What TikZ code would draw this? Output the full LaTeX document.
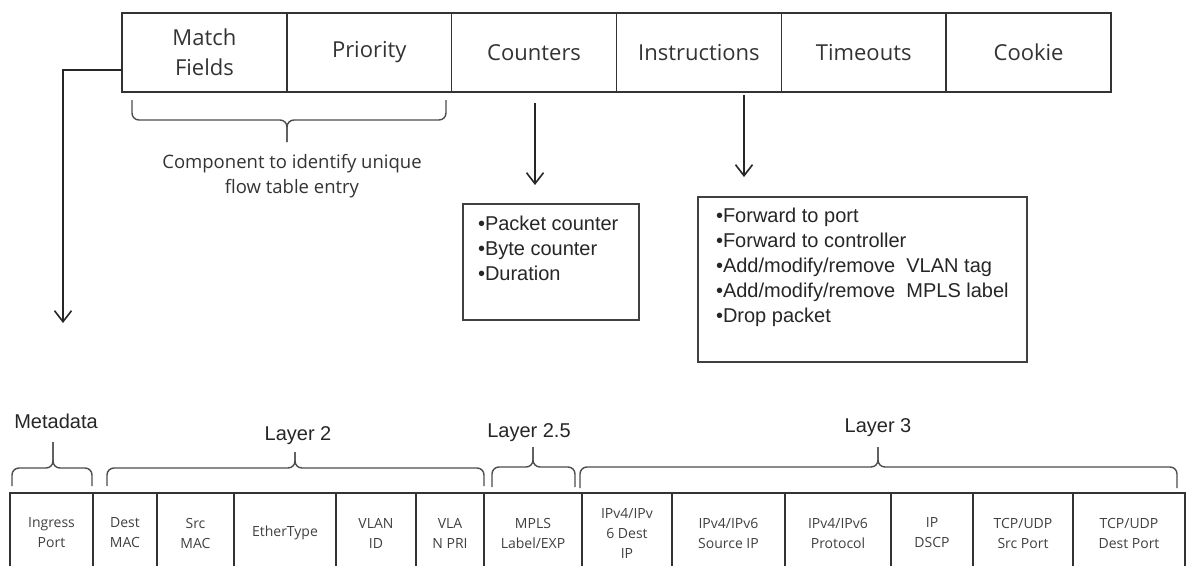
\documentclass[tikz,border=0pt]{standalone}
\usepackage{fontspec}
\setmainfont{Open Sans}
\newfontfamily\arialf{Liberation Sans}
\usetikzlibrary{arrows.meta,calc}
\begin{document}
\begin{tikzpicture}[x=1pt,y=-1pt,
  ln/.style={draw=black!80, line width=1.6pt},
  topcell/.style={ln, minimum width=164.83pt, minimum height=79pt, outer sep=0pt, inner sep=0pt, anchor=north west, align=center, font=\fontsize{22}{30}\selectfont, text=black!80},
  botcell/.style={minimum height=80pt, outer sep=0pt, inner sep=0pt, anchor=north west, align=center, font=\fontsize{14}{20}\selectfont, text=black!75},
  layerlbl/.style={font=\arialf\fontsize{20}{24}\selectfont, text=black!85},
  boxfr/.style={draw=black!75, line width=1.4pt, outer sep=0pt, inner sep=0pt, anchor=north west},
  listtxt/.style={anchor=north west, inner sep=0pt, outer sep=0pt, text=black!85, font=\arialf\fontsize{20}{25}\selectfont, align=left},
  note/.style={font=\fontsize{18.5}{25}\selectfont, text=black!80, align=center},
  brc/.style={draw=black!70, line width=1.4pt, rounded corners=7pt},
  arr/.style={draw=black!85, line width=1.6pt, -{Straight Barb[length=11pt,width=17pt]}}
]
\useasboundingbox (0,0) rectangle (1188,565);

% ---- top flow table entry ----
\node[topcell] (mf)   at (122,13)    {Match\\Fields};
\node[topcell] (prio) at (286.83,13) {Priority};
\node[topcell] (cnt)  at (451.67,13) {Counters};
\node[topcell] (ins)  at (616.5,13)  {Instructions};
\node[topcell] (tmo)  at (781.33,13) {Timeouts};
\node[topcell] (ck)   at (946.17,13) {Cookie};

% top brace
\draw[brc] (132,100) -- (132,120) -- (287,120) -- (287,142);
\draw[brc] (446,100) -- (446,120) -- (287,120) -- (287,142);
\node[note] (comp) at (292,176) {Component to identify unique\\flow table entry};

% counters / instructions boxes
\node[boxfr, minimum width=176pt, minimum height=116pt] (cbox) at (463,204) {};
\node[listtxt] (ctxt) at ($(cbox.north west)+(15,12)$) {•Packet counter\\•Byte counter\\•Duration};
\node[boxfr, minimum width=329pt, minimum height=165pt] (ibox) at (698,197) {};
\node[listtxt] (itxt) at ($(ibox.north west)+(18,11)$) {•Forward to port\\•Forward to controller\\•Add/modify/remove\ \ VLAN tag\\•Add/modify/remove\ \ MPLS label\\•Drop packet};

% arrows
\coordinate (cstart) at (535,103);
\coordinate (istart) at (744,95);
\draw[arr] (cstart) -- ($(cstart |- cbox.north)+(0,-19)$);
\draw[arr] (istart) -- ($(istart |- ibox.north)+(0,-20)$);
\coordinate (mfout) at (122,70);
\coordinate (mdtip) at (63,323);
\draw[arr] (mfout) -| (mdtip);

% ---- bottom match fields ----
\node[botcell, minimum width=83pt]  (ing)   at (10,493)  {Ingress\\Port};
\node[botcell, minimum width=64pt]  (dmac)  at (93,493)  {Dest\\MAC};
\node[botcell, minimum width=77pt]  (smac)  at (157,493) {Src\\MAC};
\node[botcell, minimum width=102pt] (etype) at (234,493) {EtherType};
\node[botcell, minimum width=80pt]  (vid)   at (336,493) {VLAN\\ID};
\node[botcell, minimum width=68pt]  (vpri)  at (416,493) {VLA\\N PRI};
\node[botcell, minimum width=98pt]  (mpls)  at (484,493) {MPLS\\Label/EXP};
\node[botcell, minimum width=90pt]  (ipd)   at (582,493) {IPv4/IPv\\6 Dest\\IP};
\node[botcell, minimum width=113pt] (ips)   at (672,493) {IPv4/IPv6\\Source IP};
\node[botcell, minimum width=106pt] (ipp)   at (785,493) {IPv4/IPv6\\Protocol};
\node[botcell, minimum width=82pt]  (dscp)  at (891,493) {IP\\DSCP};
\node[botcell, minimum width=100pt] (tsrc)  at (973,493) {TCP/UDP\\Src Port};
\node[botcell, minimum width=112pt] (tdst)  at (1073,493) {TCP/UDP\\Dest Port};
\foreach \n in {ing,dmac,smac,etype,vid,vpri,mpls,ipd,ips,ipp,dscp,tsrc,tdst}
  \draw[ln] (\n.south west) -- (\n.north west) -- (\n.north east) -- (\n.south east);

% bottom braces
\draw[brc] (12,486) -- (12,468) -- (53,468) -- (53,442);
\draw[brc] (92,486) -- (92,468) -- (53,468) -- (53,442);
\draw[brc] (107,486) -- (107,468) -- (295,468) -- (295,452);
\draw[brc] (484,486) -- (484,468) -- (295,468) -- (295,452);
\draw[brc] (492,487) -- (492,467) -- (533,467) -- (533,447);
\draw[brc] (575,487) -- (575,467) -- (533,467) -- (533,447);
\draw[brc] (580,488) -- (580,467) -- (878,467) -- (878,447);
\draw[brc] (1177,488) -- (1177,467) -- (878,467) -- (878,447);

\node[layerlbl] (lmeta) at (56,421)  {Metadata};
\node[layerlbl] (l2)    at (298,436) {Layer 2};
\node[layerlbl] (l25)   at (529,433) {Layer 2.5};
\node[layerlbl] (l3)    at (878,428) {Layer 3};
\end{tikzpicture}
\end{document}
